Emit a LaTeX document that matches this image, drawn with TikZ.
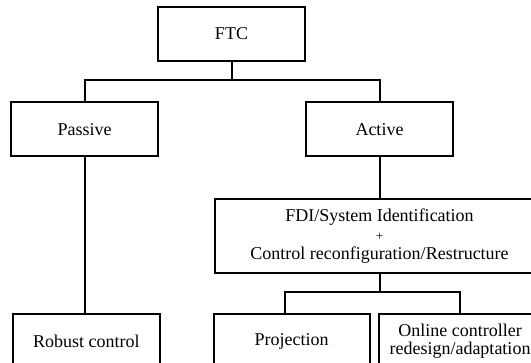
\documentclass[tikz,border=0pt]{standalone}
\usepackage{fontspec}
\setmainfont{Liberation Serif}
\begin{document}
\begin{tikzpicture}[x=0.5pt, y=-0.5pt,
block/.style={draw, line width=1pt, minimum width=73.5pt, minimum height=27pt, align=center, inner sep=0pt, font=\fontsize{9}{9.3}\selectfont},
wire/.style={line width=1pt}]
\useasboundingbox (0,0) rectangle (531,363);
\clip (0,0) rectangle (531,363);
\node[block] (ftc) at (231.5,34) {FTC};
\node[block] (passive) at (84.5,129.5) {Passive};
\node[block] (active) at (379.5,129.5) {Active};

% active branch
\node[block, minimum width=164.5pt, minimum height=37pt] (fdi) at (379.5,236) {FDI/System Identification\\[0.3pt]{\fontsize{6.5}{6.5}\selectfont +}\\[0.3pt]Control reconfiguration/Restructure};

% leaves
\node[block] (robust) at (86.4,341) {Robust control};
\node[block, minimum width=78pt] (proj) at (291.7,341) {Projection};
\node[block, minimum width=81pt] (online) at (460,341) {Online controller\\redesign/adaptation};

% connectors
\coordinate (jtop) at (231.5,80.5);
\coordinate (jbot) at (379.5,292);
\draw[wire] (ftc.south) -- (jtop);
\draw[wire] (passive.north) |- (jtop) -| (active.north);
\draw[wire] (passive.south) -- (passive.south |- robust.north);
\draw[wire] (active) -- (fdi);
\draw[wire] (fdi.south) -- (jbot);
\draw[wire] ([xshift=-3.3pt]proj.north) |- (jbot) -| (online.north);
\end{tikzpicture}
\end{document}
